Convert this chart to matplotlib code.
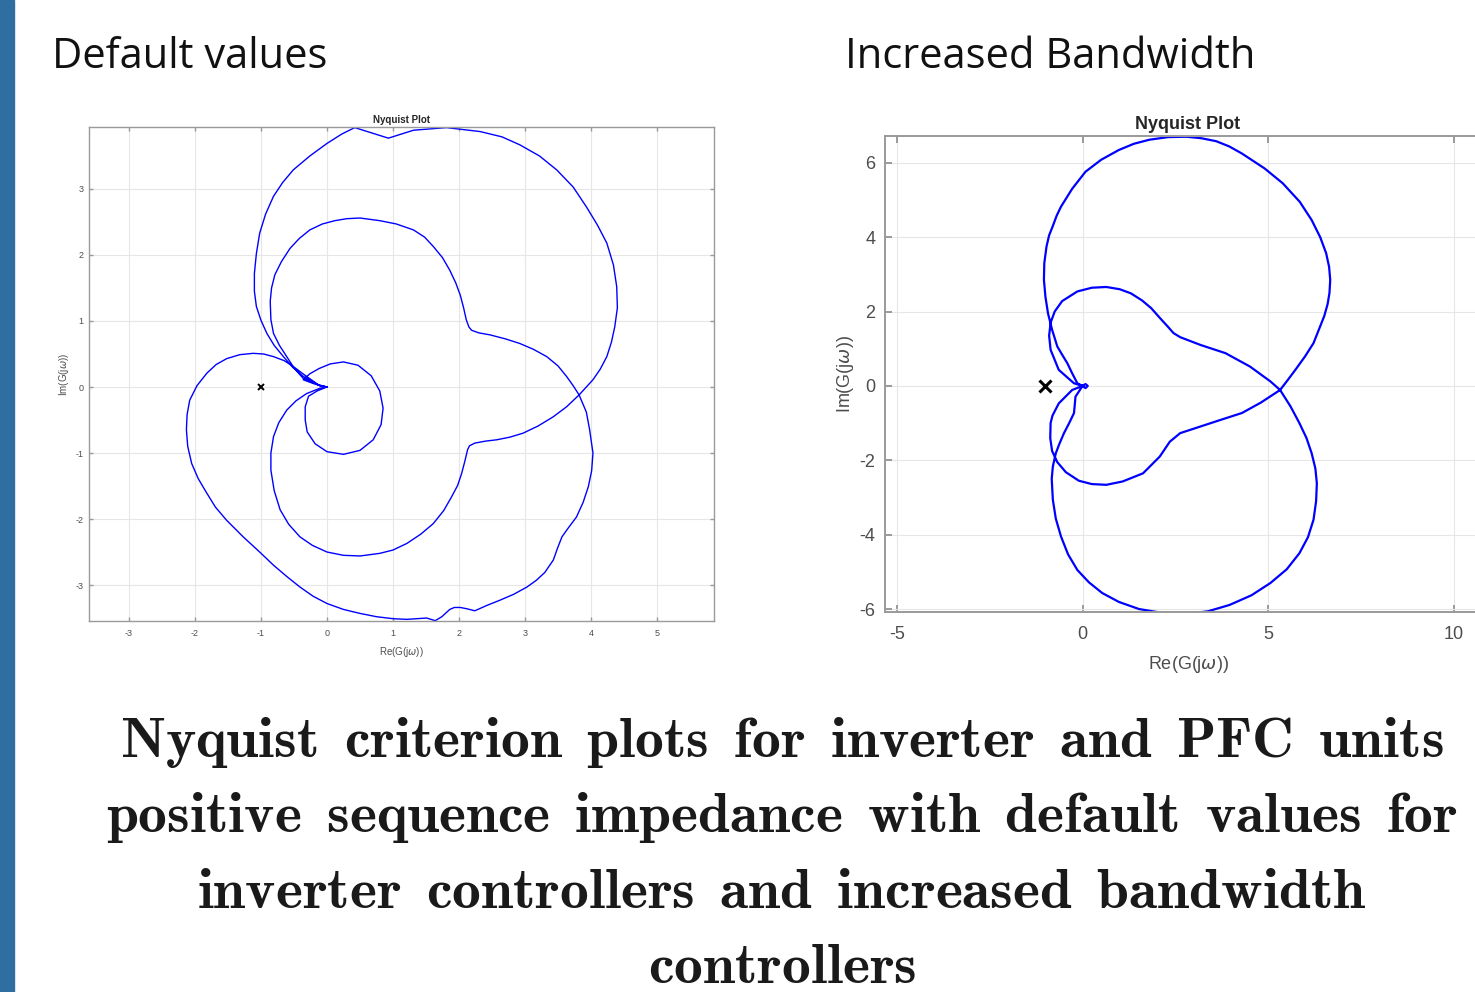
"""Two Nyquist plots side by side with a slide-style caption underneath."""

import matplotlib

matplotlib.use("Agg")
import matplotlib.pyplot as plt
from matplotlib.patches import Rectangle

plt.rcParams["axes.unicode_minus"] = False

BLUE = "#0000ff"
GRID = "#e6e6e6"
SPINE = "#9a9a9a"
TICKTXT = "#4d4d4d"
BAR = "#2e6ea0"

# ---- data ------------------------------------------------------------------
# Default values: each segment is one stretch of the Nyquist path
L_OUTER_RE = [0.0, -0.11, -0.36, -0.52, -0.66, -0.80, -0.91, -1.00, -1.07, -1.10,
              -1.10, -1.07, -1.02, -0.93, -0.81, -0.67, -0.51, -0.26, 0.0, 0.22,
              0.42, 0.93, 1.31, 1.81, 2.32, 2.65, 2.92, 3.22, 3.48, 3.73, 3.93,
              4.10, 4.24, 4.34, 4.39, 4.40, 4.36, 4.31, 4.24, 4.14, 4.03, 3.82]
L_OUTER_IM = [0.0, 0.02, 0.16, 0.30, 0.46, 0.63, 0.81, 1.01, 1.22, 1.45,
              1.72, 2.02, 2.33, 2.62, 2.89, 3.10, 3.29, 3.50, 3.69, 3.83,
              3.93, 3.77, 3.89, 3.93, 3.87, 3.79, 3.67, 3.50, 3.29, 3.03, 2.73,
              2.45, 2.18, 1.85, 1.52, 1.20, 0.91, 0.68, 0.46, 0.27, 0.11, -0.12]

L_INNER_LOW_RE = [3.82, 3.63, 3.43, 3.20, 2.97, 2.77, 2.57, 2.40, 2.24, 2.16, 2.13,
                  2.09, 2.04, 1.98, 1.89, 1.77, 1.61, 1.42, 1.21, 1.0, 0.80, 0.50,
                  0.25, 0.0, -0.22, -0.41, -0.58, -0.71, -0.80, -0.85, -0.85, -0.81,
                  -0.73, -0.61, -0.47, -0.31, -0.11, 0.0]
L_INNER_LOW_IM = [-0.12, -0.30, -0.45, -0.59, -0.70, -0.76, -0.80, -0.82, -0.85, -0.89,
                  -0.95, -1.12, -1.31, -1.49, -1.66, -1.87, -2.07, -2.23, -2.37, -2.47,
                  -2.52, -2.56, -2.55, -2.50, -2.40, -2.27, -2.08, -1.86, -1.57, -1.26,
                  -1.00, -0.75, -0.54, -0.35, -0.21, -0.10, -0.02, 0.0]

L_SMALL_RE = [0.0, -0.15, -0.28, -0.33, -0.33, -0.30, -0.18, 0.0, 0.25, 0.50, 0.70,
              0.82, 0.85, 0.80, 0.67, 0.47, 0.25, 0.05, -0.12, -0.26, -0.36, -0.20,
              -0.06, 0.0]
L_SMALL_IM = [0.0, -0.06, -0.14, -0.30, -0.50, -0.68, -0.86, -0.98, -1.02, -0.96, -0.80,
              -0.57, -0.32, -0.06, 0.17, 0.33, 0.38, 0.35, 0.28, 0.20, 0.11, 0.05,
              0.01, 0.0]

L_INNER_UP_RE = [0.0, -0.15, -0.36, -0.50, -0.61, -0.72, -0.81, -0.85, -0.86, -0.84,
                 -0.79, -0.69, -0.56, -0.42, -0.26, -0.07, 0.12, 0.30, 0.50, 0.80,
                 1.05, 1.31, 1.48, 1.61, 1.75, 1.86, 1.95, 2.02, 2.07, 2.11, 2.15,
                 2.19, 2.30, 2.47, 2.70, 2.92, 3.13, 3.33, 3.50, 3.63, 3.73, 3.82]
L_INNER_UP_IM = [0.0, 0.04, 0.13, 0.29, 0.46, 0.63, 0.81, 1.02, 1.30, 1.50,
                 1.70, 1.90, 2.10, 2.25, 2.38, 2.47, 2.52, 2.55, 2.56, 2.52,
                 2.47, 2.38, 2.27, 2.13, 1.96, 1.77, 1.58, 1.39, 1.20, 1.02, 0.91,
                 0.86, 0.82, 0.79, 0.73, 0.66, 0.57, 0.46, 0.32, 0.16, 0.02, -0.12]

L_LOWER_RE = [3.82, 3.93, 3.98, 4.03, 4.01, 3.96, 3.88, 3.78, 3.66, 3.56, 3.49, 3.43,
              3.30, 3.17, 3.03, 2.83, 2.62, 2.42, 2.24, 2.12, 2.02, 1.93, 1.86, 1.74,
              1.64, 1.51, 1.21, 1.0, 0.75, 0.50, 0.25, 0.0, -0.21, -0.41, -0.61,
              -0.81, -1.02, -1.27, -1.52, -1.69, -1.82, -1.95, -2.05, -2.11, -2.13,
              -2.12, -2.08, -1.97, -1.82, -1.68, -1.52, -1.32, -1.12, -0.96, -0.81,
              -0.65, -0.51, -0.31, -0.11, 0.0]
L_LOWER_IM = [-0.12, -0.38, -0.65, -1.00, -1.27, -1.51, -1.75, -1.97, -2.13, -2.27,
              -2.45, -2.62, -2.81, -2.93, -3.03, -3.14, -3.23, -3.31, -3.39, -3.36,
              -3.34, -3.34, -3.37, -3.48, -3.54, -3.50, -3.52, -3.51, -3.48, -3.43,
              -3.37, -3.28, -3.17, -3.03, -2.87, -2.70, -2.50, -2.27, -2.02, -1.82,
              -1.61, -1.39, -1.16, -0.90, -0.65, -0.42, -0.20, 0.02, 0.21, 0.34,
              0.43, 0.49, 0.51, 0.50, 0.46, 0.40, 0.31, 0.16, 0.02, 0.0]

# Increased bandwidth
R_UPPER_RE = [0.0, -0.14, -0.28, -0.41, -0.55, -0.68, -0.82, -0.93, -1.00, -1.04,
              -1.03, -0.97, -0.90, -0.80, -0.70, -0.58, -0.28, 0.08, 0.50, 0.97,
              1.38, 1.80, 2.30, 2.80, 3.20, 3.60, 3.95, 4.29, 4.90, 5.39, 5.85,
              6.17, 6.40, 6.56, 6.64, 6.67, 6.65, 6.60, 6.51, 6.40, 6.22, 5.99,
              5.73, 5.52, 5.32]
R_UPPER_IM = [0.0, 0.07, 0.34, 0.61, 0.84, 1.06, 1.51, 1.95, 2.40, 2.85,
              3.30, 3.75, 4.05, 4.30, 4.57, 4.82, 5.30, 5.76, 6.08, 6.34,
              6.51, 6.62, 6.69, 6.70, 6.66, 6.58, 6.44, 6.25, 5.85, 5.45, 4.95,
              4.46, 4.00, 3.57, 3.20, 2.85, 2.50, 2.20, 1.88, 1.60, 1.15, 0.79,
              0.43, 0.15, -0.11]

R_INNER_LOW_RE = [5.32, 4.80, 4.29, 3.73, 3.18, 2.63, 2.35, 2.08, 1.63, 1.08, 0.64,
                  0.25, -0.10, -0.45, -0.68, -0.82, -0.87, -0.86, -0.81, -0.64, -0.28,
                  0.0]
R_INNER_LOW_IM = [-0.11, -0.45, -0.73, -0.91, -1.09, -1.27, -1.50, -1.90, -2.35, -2.57,
                  -2.66, -2.64, -2.55, -2.32, -2.05, -1.75, -1.40, -1.00, -0.80, -0.47,
                  -0.11, 0.0]

R_TIP_RE = [0.0, 0.08, 0.14, 0.08, 0.0]
R_TIP_IM = [0.0, 0.05, 0.0, -0.06, 0.0]

R_INNER_UP_RE = [0.0, -0.23, -0.64, -0.86, -0.90, -0.86, -0.75, -0.55, -0.14, 0.25,
                 0.64, 1.00, 1.30, 1.60, 1.85, 2.08, 2.30, 2.45, 2.63, 3.18, 3.85,
                 4.51, 5.06, 5.32]
R_INNER_UP_IM = [0.0, 0.07, 0.43, 0.97, 1.35, 1.70, 2.00, 2.28, 2.54, 2.64,
                 2.66, 2.60, 2.49, 2.30, 2.09, 1.83, 1.59, 1.42, 1.31, 1.10, 0.88,
                 0.52, 0.12, -0.11]

R_LOWER_RE = [5.32, 5.60, 5.84, 6.03, 6.17, 6.27, 6.31, 6.29, 6.22, 6.07, 5.84, 5.50,
              5.06, 4.55, 3.96, 3.38, 2.76, 2.12, 1.52, 0.98, 0.53, 0.17, -0.14,
              -0.39, -0.58, -0.72, -0.80, -0.83, -0.80, -0.72, -0.62, -0.50, -0.36,
              -0.23, -0.19, 0.0]
R_LOWER_IM = [-0.11, -0.55, -1.00, -1.40, -1.81, -2.22, -2.62, -3.10, -3.60, -4.07,
              -4.50, -4.93, -5.30, -5.63, -5.89, -6.06, -6.14, -6.10, -6.00, -5.81,
              -5.57, -5.28, -4.95, -4.53, -4.05, -3.57, -3.06, -2.50, -2.17, -1.81,
              -1.55, -1.27, -1.00, -0.73, -0.29, 0.0]

CRITICAL = (-1, 0)

LEFT_XTICKS = [-3, -2, -1, 0, 1, 2, 3, 4, 5]
LEFT_YTICKS = [-3, -2, -1, 0, 1, 2, 3]
RIGHT_XTICKS = [-5, 0, 5, 10]
RIGHT_YTICKS = [-6, -4, -2, 0, 2, 4, 6]

CAPTION = [
    "Nyquist criterion plots for inverter and PFC units",
    "positive sequence impedance with default values for",
    "inverter controllers and increased bandwidth",
    "controllers",
]


def concat(*parts):
    out = []
    for p in parts:
        out.extend(p)
    return out


def style_axes(ax, fs, lw, ticklen, pad):
    ax.grid(True, color=GRID, lw=0.8)
    ax.set_axisbelow(True)
    for s in ax.spines.values():
        s.set_color(SPINE)
        s.set_linewidth(lw)
    ax.tick_params(direction="in", top=True, right=True, length=ticklen,
                   width=lw, color=SPINE, labelsize=fs, labelcolor=TICKTXT, pad=pad)
    for lab in ax.get_xticklabels() + ax.get_yticklabels():
        lab.set_family("Liberation Sans")


W, H = 1475, 992
fig = plt.figure(figsize=(W / 100, H / 100), dpi=100)
fig.patches.append(Rectangle((0, 0), 14 / W, 1, transform=fig.transFigure,
                             color=BAR, zorder=0))

# --- left: default values
axl = fig.add_axes([89 / W, 1 - 621 / H, (714 - 89) / W, (621 - 127) / H])
axl.plot(concat(L_OUTER_RE, L_INNER_LOW_RE, L_SMALL_RE, L_INNER_UP_RE, L_LOWER_RE),
         concat(L_OUTER_IM, L_INNER_LOW_IM, L_SMALL_IM, L_INNER_UP_IM, L_LOWER_IM),
         color=BLUE, lw=1.0)
axl.plot(*CRITICAL, marker="x", color="k", ms=5, mew=1.4)
axl.set_xlim(-3.606, 5.864)
axl.set_ylim(-3.545, 3.939)
axl.set_xticks(LEFT_XTICKS)
axl.set_yticks(LEFT_YTICKS)
style_axes(axl, 6.5, 1.0, 3, 6)
axl.tick_params(axis="y", pad=4)
axl.set_title("Nyquist Plot", fontsize=7, fontweight="bold", family="Liberation Sans",
              color="#262626", pad=3)
axl.set_xlabel(r"Re(G(j$\omega$))", fontsize=7, family="Liberation Sans",
               color=TICKTXT, labelpad=5)
axl.set_ylabel(r"Im(G(j$\omega$))", fontsize=7, family="Liberation Sans",
               color=TICKTXT, labelpad=3)

# --- right: increased bandwidth (axes runs off the slide edge)
axr = fig.add_axes([885 / W, 1 - 612 / H, (1491 - 885) / W, (612 - 136) / H])
axr.plot(concat(R_UPPER_RE, R_INNER_LOW_RE, R_TIP_RE, R_INNER_UP_RE, R_LOWER_RE),
         concat(R_UPPER_IM, R_INNER_LOW_IM, R_TIP_IM, R_INNER_UP_IM, R_LOWER_IM),
         color=BLUE, lw=1.6)
axr.plot(*CRITICAL, marker="x", color="k", ms=8, mew=2.2)
axr.set_xlim(-5.32, 11.0)
axr.set_ylim(-6.08, 6.72)
axr.set_xticks(RIGHT_XTICKS)
axr.set_yticks(RIGHT_YTICKS)
style_axes(axr, 13, 1.4, 5, 10)
axr.tick_params(axis="y", pad=7)
axr.set_title("Nyquist Plot", fontsize=13, fontweight="bold", family="Liberation Sans",
              color="#262626", pad=5)
axr.set_xlabel(r"Re(G(j$\omega$))", fontsize=13, family="Liberation Sans",
               color=TICKTXT, labelpad=8)
axr.set_ylabel(r"Im(G(j$\omega$))", fontsize=13, family="Liberation Sans",
               color=TICKTXT, labelpad=2)

# --- slide headings
fig.text(52 / W, 1 - 68 / H, "Default values", family="Open Sans", fontsize=30,
         color="#111111", va="baseline")
fig.text(845 / W, 1 - 68 / H, "Increased Bandwidth", family="Open Sans", fontsize=30,
         color="#111111", va="baseline")

# --- caption (wider word gaps, like the LaTeX original)
for i, line in enumerate(CAPTION):
    tex = r"$\mathbf{" + r"\ \,".join(line.split(" ")) + "}$"
    fig.text(782 / W, 1 - (757 + 75.3 * i) / H, tex, fontsize=41.5, ha="center",
             va="baseline", math_fontfamily="cm", color="#1a1a1a")

fig.savefig("out.png", dpi=100, facecolor="white")
